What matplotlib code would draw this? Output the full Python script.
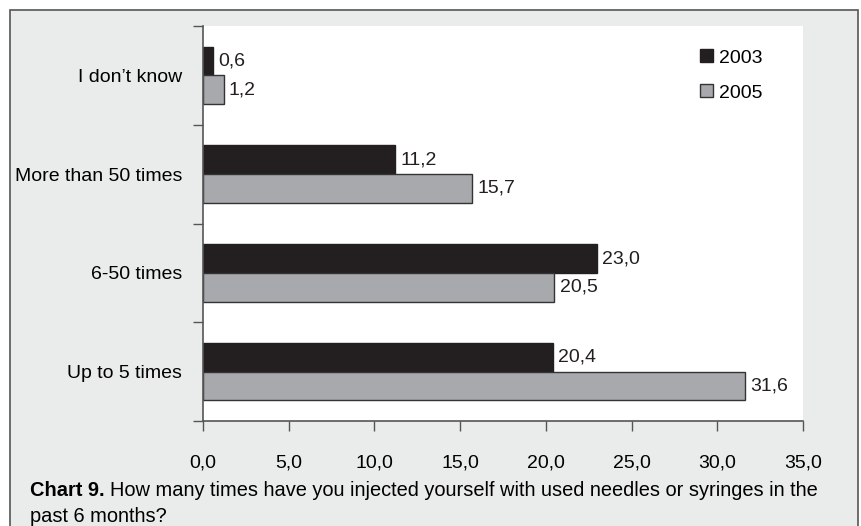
import matplotlib
matplotlib.use("Agg")
import matplotlib.pyplot as plt
from matplotlib.patches import Rectangle
import numpy as np

categories = ["Up to 5 times", "6-50 times", "More than 50 times", "I don\u2019t know"]
values_2003 = [20.4, 23.0, 11.2, 0.6]
values_2005 = [31.6, 20.5, 15.7, 1.2]
series_labels = ["2003", "2005"]
x_ticks = [0, 5, 10, 15, 20, 25, 30, 35]

plt.rcParams["font.family"] = ["Liberation Sans", "DejaVu Sans"]
FS = 14

W, H = 862, 526
fig = plt.figure(figsize=(W / 100, H / 100), dpi=100, facecolor="white")

# grey panel with border
panel = Rectangle((10 / W, -0.05), 848 / W, 1.05 - 10 / H, transform=fig.transFigure,
                  facecolor="#eaebeb", edgecolor="#555555", linewidth=1.2, zorder=-5)
fig.patches.append(panel)

ax = fig.add_axes([203 / W, 1 - 421 / H, 600 / W, 395 / H])
ax.set_facecolor("white")

y = np.arange(len(categories))
h = 0.29
dark = "#231f20"
grey = "#a7a9ac"
b1 = ax.barh(y + h / 2, values_2003, height=h, color=dark, edgecolor=dark, linewidth=1, label=series_labels[0])
b2 = ax.barh(y - h / 2, values_2005, height=h, color=grey, edgecolor="#333333", linewidth=1, label=series_labels[1])

for bars, vals in ((b1, values_2003), (b2, values_2005)):
    for bar, v in zip(bars, vals):
        ax.text(v + 0.3, bar.get_y() + bar.get_height() / 2, f"{v:.1f}".replace(".", ","),
                va="center", ha="left", fontsize=FS, color="#231f20")

ax.set_xlim(0, 35)
ax.set_ylim(-0.5, len(categories) - 0.5)
ax.set_xticks(x_ticks)
ax.set_xticklabels([f"{t:.1f}".replace(".", ",") for t in x_ticks], fontsize=FS)
ax.tick_params(axis="x", direction="out", length=7, width=1, color="#555555", pad=17)

ax.set_yticks(y)
ax.set_yticklabels(categories, fontsize=FS)
ax.tick_params(axis="y", which="major", length=0, pad=15)
ax.set_yticks(np.arange(len(categories) + 1) - 0.5, minor=True)
ax.tick_params(axis="y", which="minor", direction="out", length=7, width=1, color="#555555")

for s in ("top", "right"):
    ax.spines[s].set_visible(False)
for s in ("left", "bottom"):
    ax.spines[s].set_color("#555555")
    ax.spines[s].set_linewidth(1.2)

leg = ax.legend(loc="upper left", bbox_to_anchor=(0.80, 0.985),
                frameon=False, fontsize=FS, handlelength=0.65, handleheight=0.65,
                handletextpad=0.3, labelspacing=0.9)

CFS = 14.4
t1 = fig.text(30 / W, 1 - 490 / H, "Chart 9.", fontsize=CFS, fontweight="bold", va="center", ha="left")
fig.canvas.draw()
bb = t1.get_window_extent()
fig.text(bb.x1 / W + 5 / W, 1 - 490 / H,
         "How many times have you injected yourself with used needles or syringes in the",
         fontsize=CFS, va="center", ha="left")
fig.text(30 / W, 1 - 516 / H, "past 6 months?", fontsize=CFS, va="center", ha="left")

fig.savefig("out.png", dpi=100, facecolor=fig.get_facecolor())
